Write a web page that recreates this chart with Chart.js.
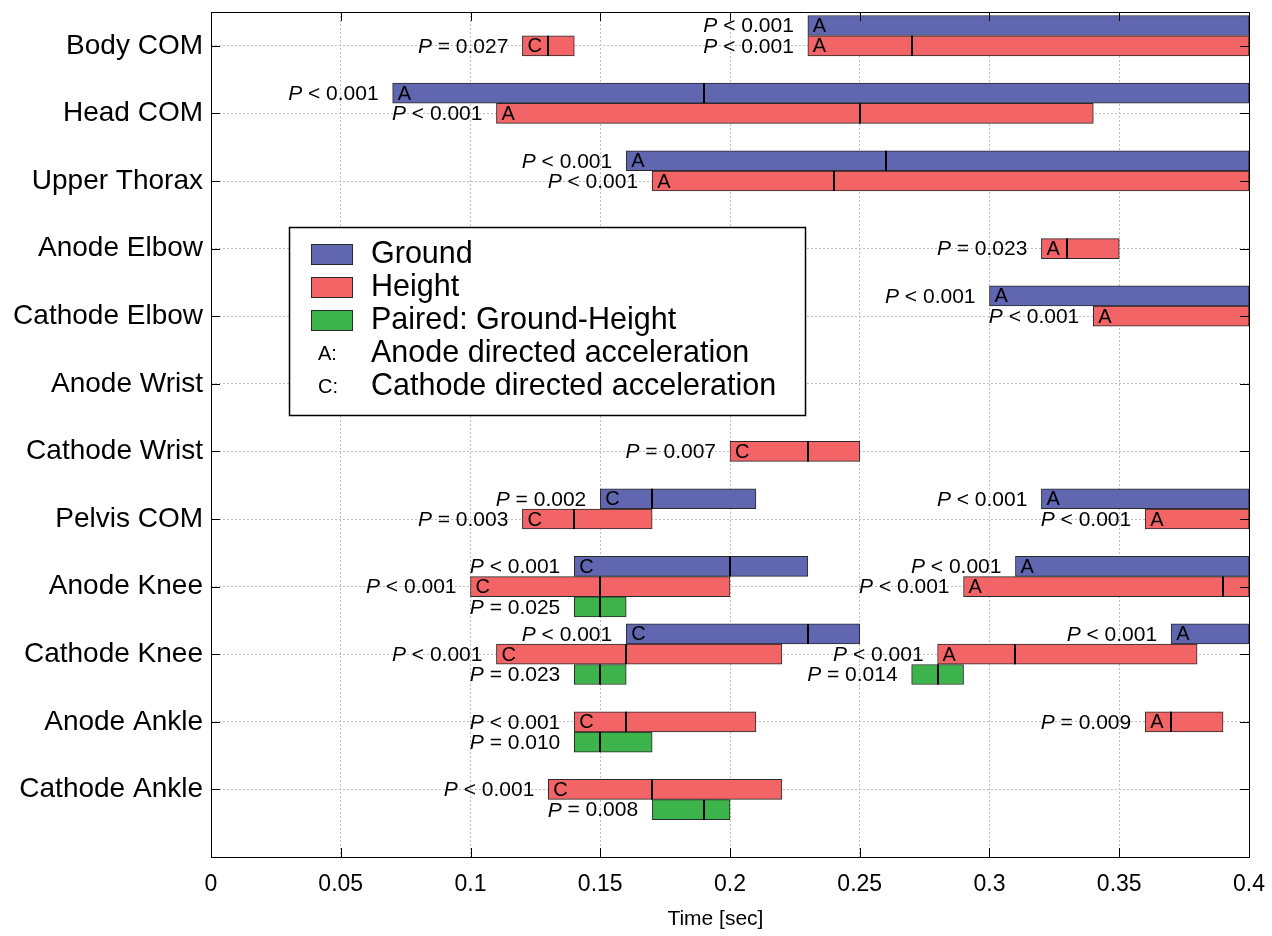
<!DOCTYPE html>
<html><head><meta charset="utf-8">
<script src="https://cdn.jsdelivr.net/npm/chart.js@4"></script>
<style>html,body{margin:0;padding:0;background:#fff}#wrap{width:1272px;height:936px}</style>
</head><body><div id="wrap"><canvas id="c" width="1272" height="936"></canvas></div>
<script>
const categories = ['Body COM','Head COM','Upper Thorax','Anode Elbow','Cathode Elbow','Anode Wrist','Cathode Wrist','Pelvis COM','Anode Knee','Cathode Knee','Anode Ankle','Cathode Ankle'];
const xTicks = [0,0.05,0.1,0.15,0.2,0.25,0.3,0.35,0.4];
const xTickLabels = ['0','0.05','0.1','0.15','0.2','0.25','0.3','0.35','0.4'];

// Ground
const groundRow   = [0, 1, 2, 4, 7, 7, 8, 8, 9, 9];
const groundStart = [0.23,0.07,0.16,0.30,0.15,0.32,0.14,0.31,0.16,0.37];
const groundEnd   = [0.40,0.40,0.40,0.40,0.21,0.40,0.23,0.40,0.25,0.40];
const groundPeak  = [null,0.19,0.26,null,0.17,null,0.20,null,0.23,null];
const groundDir   = ['A','A','A','A','C','A','C','A','C','A'];
const groundP     = ['< 0.001','< 0.001','< 0.001','< 0.001','= 0.002','< 0.001','< 0.001','< 0.001','< 0.001','< 0.001'];

// Height
const heightRow   = [0,0,1,2,3,4,6,7,7,8,8,9,9,10,10,11];
const heightStart = [0.12,0.23,0.11,0.17,0.32,0.34,0.20,0.12,0.36,0.10,0.29,0.11,0.28,0.14,0.36,0.13];
const heightEnd   = [0.14,0.40,0.34,0.40,0.35,0.40,0.25,0.17,0.40,0.20,0.40,0.22,0.38,0.21,0.39,0.22];
const heightPeak  = [0.13,0.27,0.25,0.24,0.33,null,0.23,0.14,null,0.15,0.39,0.16,0.31,0.16,0.37,0.17];
const heightDir   = ['C','A','A','A','A','A','C','C','A','C','A','C','A','C','A','C'];
const heightP     = ['= 0.027','< 0.001','< 0.001','< 0.001','= 0.023','< 0.001','= 0.007','= 0.003','< 0.001','< 0.001','< 0.001','< 0.001','< 0.001','< 0.001','= 0.009','< 0.001'];

// Paired: Ground-Height
const pairedRow   = [8,9,9,10,11];
const pairedStart = [0.14,0.14,0.27,0.14,0.17];
const pairedEnd   = [0.16,0.16,0.29,0.17,0.20];
const pairedPeak  = [0.15,0.15,0.28,0.15,0.19];
const pairedDir   = [null,null,null,null,null];
const pairedP     = ['= 0.025','= 0.023','= 0.014','= 0.010','= 0.008'];

const FONT = '"Liberation Sans", Arial, Helvetica, sans-serif';
Chart.defaults.font.family = FONT;
Chart.defaults.color = '#000';

function mk(label, color, rows, starts, ends, peaks, dirs, ps, off) {
  return {
    label, backgroundColor: color, borderColor: '#2a2a2a', borderWidth: 1, borderSkipped: false,
    barThickness: 20, grouped: false,
    data: rows.map((r, i) => ({ x: [starts[i], ends[i]], y: r + off })),
    peaks, dirs, ps
  };
}

function zeroPad(s) { s.paddingTop = 0; s.paddingBottom = 0; s.paddingLeft = 0; s.paddingRight = 0; }

const annot = {
  id: 'annot',
  afterDatasetsDraw(chart) {
    const ctx = chart.ctx, xs = chart.scales.x, a = chart.chartArea;
    ctx.save();
    ctx.beginPath(); ctx.rect(a.left, a.top, a.right - a.left, a.bottom - a.top); ctx.clip();
    chart.data.datasets.forEach((ds, di) => {
      chart.getDatasetMeta(di).data.forEach((bar, i) => {
        const pk = ds.peaks[i];
        if (pk == null) return;
        const px = Math.round(xs.getPixelForValue(pk));
        ctx.strokeStyle = '#000'; ctx.lineWidth = 2;
        ctx.beginPath(); ctx.moveTo(px, bar.y - bar.height / 2); ctx.lineTo(px, bar.y + bar.height / 2); ctx.stroke();
      });
    });
    ctx.restore();
    ctx.save();
    chart.data.datasets.forEach((ds, di) => {
      chart.getDatasetMeta(di).data.forEach((bar, i) => {
        const start = Math.min(bar.x, bar.base);
        const d = ds.dirs[i];
        if (d) {
          ctx.font = '20px ' + FONT; ctx.fillStyle = '#000';
          ctx.textAlign = 'left'; ctx.textBaseline = 'middle';
          ctx.fillText(d, start + 5, bar.y + 1);
        }
        const rest = ' ' + ds.ps[i];
        const xr = start - 14;
        ctx.font = '21px ' + FONT; ctx.textAlign = 'right'; ctx.textBaseline = 'middle'; ctx.fillStyle = '#000';
        ctx.fillText(rest, xr, bar.y + 1);
        const w = ctx.measureText(rest).width;
        ctx.font = 'italic 21px ' + FONT;
        ctx.fillText('P', xr - w, bar.y + 1);
      });
    });
    ctx.restore();
  },
  afterDraw(chart) {
    const ctx = chart.ctx, xs = chart.scales.x, ys = chart.scales.y, a = chart.chartArea;
    ctx.save();
    ctx.strokeStyle = '#000'; ctx.lineWidth = 1;
    ctx.beginPath();
    xTicks.forEach(v => {
      const px = Math.round(xs.getPixelForValue(v)) + 0.5;
      ctx.moveTo(px, a.bottom); ctx.lineTo(px, a.bottom - 9);
      ctx.moveTo(px, a.top); ctx.lineTo(px, a.top + 9);
    });
    categories.forEach((c, i) => {
      const py = Math.round(ys.getPixelForValue(i)) + 0.5;
      ctx.moveTo(a.left, py); ctx.lineTo(a.left + 9, py);
      ctx.moveTo(a.right, py); ctx.lineTo(a.right - 9, py);
    });
    ctx.stroke();
    ctx.strokeRect(Math.round(a.left) + 0.5, Math.round(a.top) + 0.5, Math.round(a.right - a.left), Math.round(a.bottom - a.top));
    // legend
    const L = a.left + 78, T = a.top + 215, W = 516, H = 188;
    ctx.fillStyle = '#fff'; ctx.fillRect(L, T, W, H);
    ctx.lineWidth = 1.5; ctx.strokeRect(L + 0.5, T + 0.5, W, H);
    const items = [
      ['sw', '#6066b0', 'Ground'],
      ['sw', '#f26466', 'Height'],
      ['sw', '#3cb44b', 'Paired: Ground-Height'],
      ['tx', 'A:', 'Anode directed acceleration'],
      ['tx', 'C:', 'Cathode directed acceleration']
    ];
    items.forEach((it, k) => {
      const cy = T + 27 + k * 33;
      if (it[0] === 'sw') {
        ctx.fillStyle = it[1]; ctx.fillRect(L + 22, cy - 10, 42, 20);
        ctx.lineWidth = 1; ctx.strokeStyle = '#2a2a2a'; ctx.strokeRect(L + 22.5, cy - 9.5, 41, 20);
      } else {
        ctx.fillStyle = '#000'; ctx.font = '20px ' + FONT; ctx.textAlign = 'left'; ctx.textBaseline = 'middle';
        ctx.fillText(it[1], L + 29, cy + 1);
      }
      ctx.fillStyle = '#000'; ctx.font = '30.5px ' + FONT; ctx.textAlign = 'left'; ctx.textBaseline = 'middle';
      ctx.fillText(it[2], L + 82, cy + 1);
    });
    ctx.restore();
  }
};

new Chart(document.getElementById('c'), {
  type: 'bar',
  data: {
    datasets: [
      mk('Ground', '#6066b0', groundRow, groundStart, groundEnd, groundPeak, groundDir, groundP, -0.3),
      mk('Height', '#f26466', heightRow, heightStart, heightEnd, heightPeak, heightDir, heightP, 0),
      mk('Paired: Ground-Height', '#3cb44b', pairedRow, pairedStart, pairedEnd, pairedPeak, pairedDir, pairedP, 0.3)
    ]
  },
  options: {
    indexAxis: 'y',
    responsive: false,
    animation: false,
    layout: { padding: { top: 12, right: 23, left: 0, bottom: 0 } },
    plugins: { legend: { display: false }, tooltip: { enabled: false } },
    scales: {
      x: {
        type: 'linear', position: 'bottom', min: 0, max: 0.4, offset: false,
        afterBuildTicks: s => { s.ticks = xTicks.map(v => ({ value: v })); },
        afterFit: s => { s.height = 79; zeroPad(s); },
        ticks: { callback: (v, i) => xTickLabels[i], font: { size: 23 }, color: '#000', padding: 14, maxRotation: 0, autoSkip: false },
        grid: { color: '#bdbdbd', lineWidth: 1, drawTicks: false, offset: false },
        border: { display: false, dash: [2, 2] },
        title: { display: true, text: 'Time [sec]\u00a0\u00a0\u00a0\u00a0\u00a0', font: { size: 21 }, color: '#000', padding: { top: 0, bottom: 4 } }
      },
      y: {
        type: 'linear', position: 'left', min: -0.5, max: 12, reverse: true, offset: false,
        afterBuildTicks: s => { s.ticks = categories.map((c, i) => ({ value: i })); },
        afterFit: s => { s.width = 211; zeroPad(s); },
        ticks: { callback: (v, i) => categories[i], font: { size: 28 }, color: '#000', padding: 8, autoSkip: false },
        grid: { color: '#bdbdbd', lineWidth: 1, drawTicks: false, offset: false },
        border: { display: false, dash: [2, 2] }
      }
    }
  },
  plugins: [annot]
});
</script>
</body></html>
